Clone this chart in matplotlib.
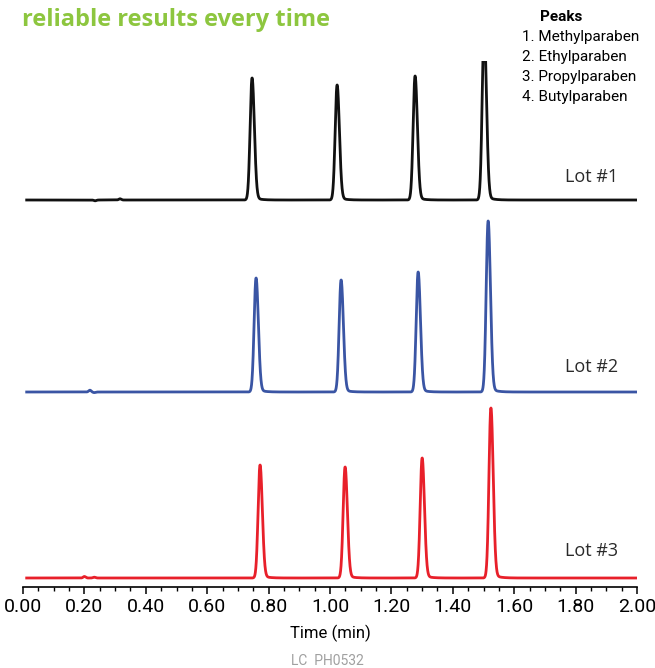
import numpy as np
import matplotlib
matplotlib.use("Agg")
import matplotlib.pyplot as plt
from matplotlib.ticker import MultipleLocator

# ---- data ----
lots = ["Lot #1", "Lot #2", "Lot #3"]
colors = ["#111111", "#3a55a4", "#e8202a"]
peak_names = ["Methylparaben", "Ethylparaben", "Propylparaben", "Butylparaben"]
rt_lot1 = [0.746, 1.023, 1.277, 1.502]
rt_lot2 = [0.759, 1.036, 1.287, 1.515]
rt_lot3 = [0.772, 1.049, 1.300, 1.524]
height_lot1 = [122, 115, 124, 172]
height_lot2 = [114, 112, 120, 171]
height_lot3 = [113, 111, 120, 170]
bump_t_lot1 = [0.235, 0.316]
bump_h_lot1 = [-0.8, 1.2]
bump_t_lot2 = [0.218, 0.232]
bump_h_lot2 = [1.8, -0.6]
bump_t_lot3 = [0.200, 0.232]
bump_h_lot3 = [1.5, 0.8]
xticks = [0.0, 0.2, 0.4, 0.6, 0.8, 1.0, 1.2, 1.4, 1.6, 1.8, 2.0]

rts = [rt_lot1, rt_lot2, rt_lot3]
heights = [height_lot1, height_lot2, height_lot3]
bumps_t = [bump_t_lot1, bump_t_lot2, bump_t_lot3]
bumps_h = [bump_h_lot1, bump_h_lot2, bump_h_lot3]

# layout constants (pixel-like units above the axis line)
offsets = [387, 195, 9]
W, H = 655, 668
FONT = ["Roboto", "DejaVu Sans"]

def shape(t, t0, s_left=0.0062, s_right=0.0075):
    s = np.where(t < t0, s_left, s_right)
    g = np.exp(-0.5 * ((t - t0) / s) ** 2)
    tail = np.where(t > t0, 1 - np.exp(-(t - t0) / 0.006), 0) * np.exp(-(t - t0) / 0.018) * 0.03
    return g + tail

t = np.linspace(0.012, 2.0, 8000)

fig = plt.figure(figsize=(W / 100, H / 100), dpi=100)
ax = fig.add_axes([23 / W, 81 / H, 614 / W, 526 / H])
ax.set_xlim(0, 2.0)
ax.set_ylim(0, 526)

for i in range(3):
    y = np.full_like(t, offsets[i], dtype=float)
    for t0, h in zip(rts[i], heights[i]):
        p = shape(t, t0)
        y = y + h * p / p.max()
    for t0, h in zip(bumps_t[i], bumps_h[i]):
        y = y + h * np.exp(-0.5 * ((t - t0) / 0.004) ** 2)
    ax.plot(t, y, color=colors[i], lw=2.0, solid_joinstyle="round")

label_y = [410, 220, 36]
for i, lab in enumerate(lots):
    ax.text(1.938, label_y[i], lab, ha="right", va="center", fontsize=13,
            family=["Open Sans", "DejaVu Sans"], color="#2a2a2a")

for s in ["left", "right", "top"]:
    ax.spines[s].set_visible(False)
ax.spines["bottom"].set_linewidth(1.2)
ax.set_yticks([])
ax.set_xticks(xticks)
ax.set_xticklabels([f"{v:.2f}" for v in xticks], family=FONT, fontsize=14)
ax.xaxis.set_minor_locator(MultipleLocator(0.05))
ax.tick_params(axis="x", which="major", length=5, width=1.1, pad=3)
ax.tick_params(axis="x", which="minor", length=3, width=1.0)
ax.set_xlabel("Time (min)", family=FONT, fontsize=12, labelpad=6)

# title fragment
fig.text(22 / W, 1 - 20 / H, "reliable results every time", color="#8dc63f",
         fontsize=17, fontweight="bold", family=["Open Sans", "DejaVu Sans"],
         ha="left", va="center")

# peaks legend
fig.text(540 / W, 1 - 17 / H, "Peaks", fontsize=11, fontweight="bold",
         family=FONT, ha="left", va="center")
for k, name in enumerate(peak_names):
    fig.text(522 / W, 1 - (37 + 20 * k) / H, f"{k + 1}. {name}", fontsize=11,
             family=FONT, ha="left", va="center")

fig.text(0.5, 1 - 661 / H, "LC  PH0532", fontsize=10, color="#a0a0a0",
         family=FONT, ha="center", va="center")

fig.savefig("out.png", dpi=100)
